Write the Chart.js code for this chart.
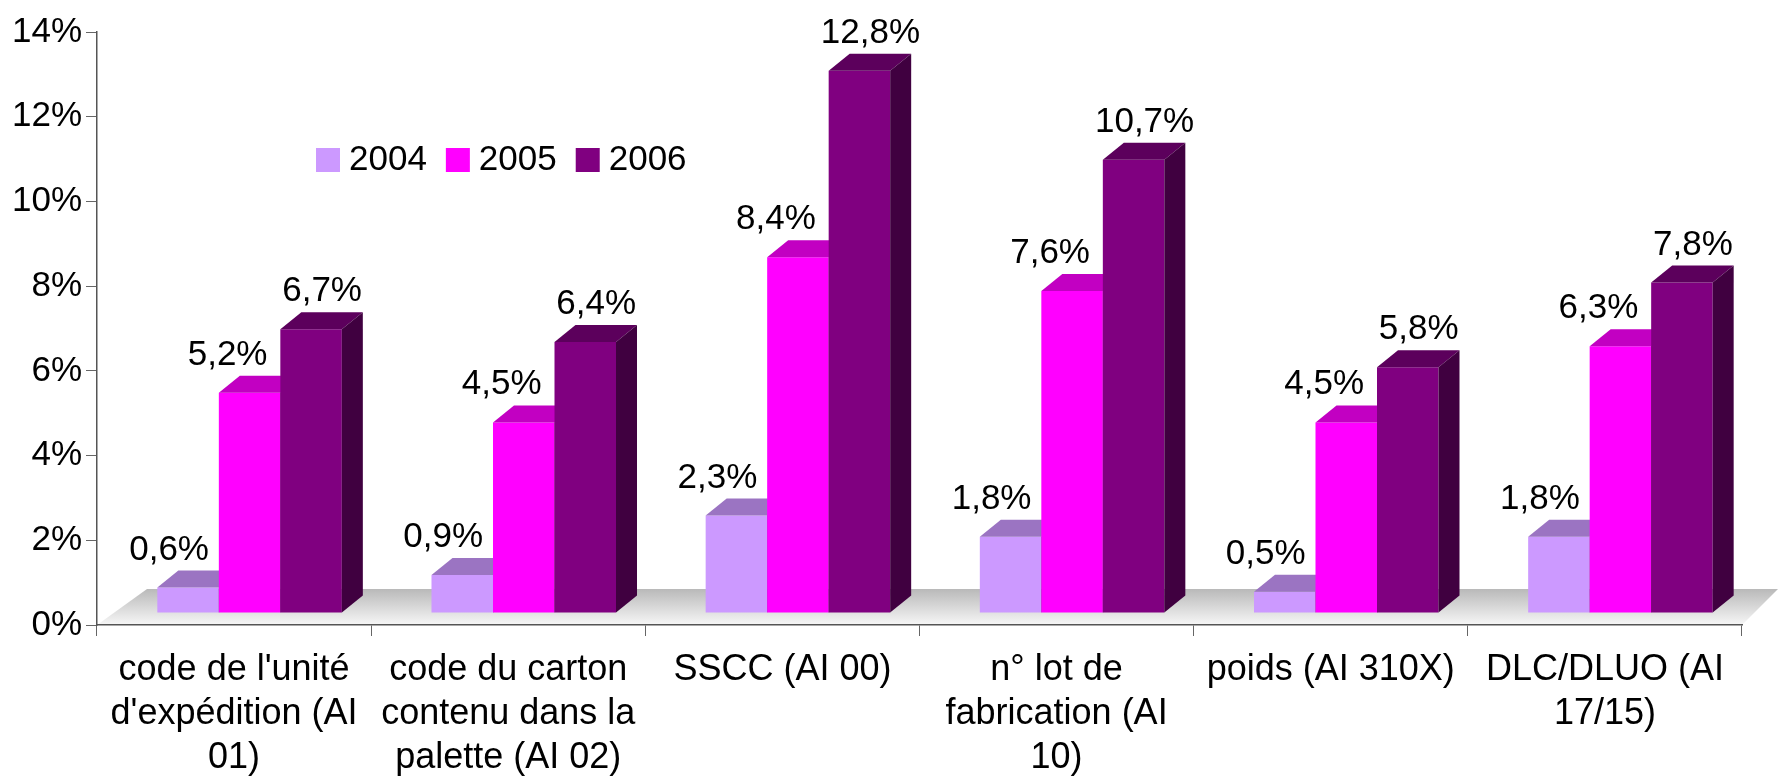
<!DOCTYPE html>
<html>
<head>
<meta charset="utf-8">
<script src="https://cdn.jsdelivr.net/npm/chart.js@4.4.0/dist/chart.umd.min.js"></script>
<style>
html, body { margin: 0; padding: 0; background: #fff; }
#chart { display: block; }
</style>
</head>
<body>
<canvas id="chart" width="1778" height="778"></canvas>
<script>
// 3D clustered bar chart — Chart.js 4 with a face-drawing plugin

const categories = [
    ["code de l'unité", "d'expédition (AI", "01)"],
    ["code du carton", "contenu dans la", "palette (AI 02)"],
    ["SSCC (AI 00)"],
    ["n° lot de", "fabrication (AI", "10)"],
    ["poids (AI 310X)"],
    ["DLC/DLUO (AI", "17/15)"]
];
const years = ["2004", "2005", "2006"];
const values2004 = [0.6, 0.9, 2.3, 1.8, 0.5, 1.8];
const values2005 = [5.2, 4.5, 8.4, 7.6, 4.5, 6.3];
const values2006 = [6.7, 6.4, 12.8, 10.7, 5.8, 7.8];
const yTicks = [0, 2, 4, 6, 8, 10, 12, 14];

// styles
const FONT = "'Liberation Sans', Arial, sans-serif";
const frontColors = ["#cc99ff", "#ff00ff", "#800080"];
const topColors = ["#9b74c2", "#c200c2", "#5c005c"];
const sideColors = ["#664c80", "#800080", "#400040"];
const labelShift = [-19, -22, 11];   // nudges of the value labels, per series

const DEPTH_X = 21, DEPTH_Y = -17;   // bar depth
const SHIFT_X = 15.5, SHIFT_Y = -12; // bars sit behind the front plane
const FLOOR_L = 50, FLOOR_R = 36, FLOOR_H = 36;

function fmt(v) {
    return v.toFixed(1).replace(".", ",") + "%";
}

function drawFaces(ctx, el, di) {
    var l = el.x - el.width / 2, r = el.x + el.width / 2;
    var t = el.y, b = el.base;
    ctx.fillStyle = topColors[di];
    ctx.beginPath();
    ctx.moveTo(l, t);
    ctx.lineTo(r, t);
    ctx.lineTo(r + DEPTH_X, t + DEPTH_Y);
    ctx.lineTo(l + DEPTH_X, t + DEPTH_Y);
    ctx.closePath();
    ctx.fill();
    ctx.fillStyle = sideColors[di];
    ctx.beginPath();
    ctx.moveTo(r, t);
    ctx.lineTo(r + DEPTH_X, t + DEPTH_Y);
    ctx.lineTo(r + DEPTH_X, b + DEPTH_Y);
    ctx.lineTo(r, b);
    ctx.closePath();
    ctx.fill();
}

const threeD = {
    id: "threeD",
    beforeDraw(chart) {
        // floor
        var ctx = chart.ctx, a = chart.chartArea;
        var yb = chart.scales.y.getPixelForValue(0);
        ctx.save();
        var g = ctx.createLinearGradient(0, yb - FLOOR_H, 0, yb);
        g.addColorStop(0, "#b9b9b9");
        g.addColorStop(1, "#f7f7f7");
        ctx.fillStyle = g;
        ctx.beginPath();
        ctx.moveTo(a.left, yb);
        ctx.lineTo(a.right, yb);
        ctx.lineTo(a.right + FLOOR_R, yb - FLOOR_H);
        ctx.lineTo(a.left + FLOOR_L, yb - FLOOR_H);
        ctx.closePath();
        ctx.fill();
        ctx.restore();
    },
    beforeDatasetDraw() {
        // bars are drawn below, front to back in series order
        return false;
    },
    afterDatasetsDraw(chart) {
        var ctx = chart.ctx;
        ctx.save();
        ctx.translate(SHIFT_X, SHIFT_Y);
        chart.data.datasets.forEach(function (ds, di) {
            chart.getDatasetMeta(di).data.forEach(function (el) {
                el.draw(ctx);
                drawFaces(ctx, el, di);
            });
        });
        ctx.restore();

        ctx.save();
        ctx.font = "35px " + FONT;
        ctx.fillStyle = "#000";
        ctx.textAlign = "center";
        ctx.textBaseline = "alphabetic";
        chart.data.datasets.forEach(function (ds, di) {
            chart.getDatasetMeta(di).data.forEach(function (el, i) {
                ctx.fillText(fmt(ds.data[i]),
                    el.x + SHIFT_X + labelShift[di],
                    el.y + SHIFT_Y + DEPTH_Y - 11);
            });
        });
        ctx.restore();
    },
    afterDraw(chart) {
        // legend
        var ctx = chart.ctx;
        var x = 316, y = 160, box = 24;
        ctx.save();
        ctx.font = "35px " + FONT;
        ctx.textBaseline = "middle";
        ctx.textAlign = "left";
        years.forEach(function (yr, i) {
            ctx.fillStyle = frontColors[i];
            ctx.fillRect(x, y - box / 2, box, box);
            ctx.fillStyle = "#000";
            ctx.fillText(yr, x + box + 9, y);
            x += box + 9 + ctx.measureText(yr).width + 19;
        });
        ctx.restore();
    }
};

const seriesValues = [values2004, values2005, values2006];

new Chart(document.getElementById("chart"), {
    type: "bar",
    data: {
        labels: categories,
        datasets: years.map(function (yr, i) {
            return {
                label: yr,
                data: seriesValues[i],
                backgroundColor: frontColors[i],
                borderWidth: 0,
                categoryPercentage: 0.673,
                barPercentage: 1
            };
        })
    },
    options: {
        responsive: false,
        animation: false,
        devicePixelRatio: 1,
        layout: { padding: { top: 32, right: 36, left: 0, bottom: 0 } },
        plugins: {
            legend: { display: false },
            tooltip: { enabled: false }
        },
        scales: {
            x: {
                afterFit: function (s) { s.height = 153; },
                grid: { drawOnChartArea: false, tickLength: 11, color: "#666", offset: true },
                border: { color: "#555", width: 1.5 },
                ticks: {
                    color: "#000",
                    font: { family: FONT, size: 36, lineHeight: 1.22 },
                    padding: 12,
                    maxRotation: 0,
                    autoSkip: false
                }
            },
            y: {
                min: 0,
                max: 14,
                afterFit: function (s) { s.width = 97; },
                afterBuildTicks: function (s) {
                    s.ticks = yTicks.map(function (v) { return { value: v }; });
                },
                grid: { drawOnChartArea: false, tickLength: 11, color: "#666" },
                border: { color: "#555", width: 1.5 },
                ticks: {
                    color: "#000",
                    font: { family: FONT, size: 35 },
                    padding: 4,
                    callback: function (v) { return v + "%"; }
                }
            }
        }
    },
    plugins: [threeD]
});
</script>
</body>
</html>
